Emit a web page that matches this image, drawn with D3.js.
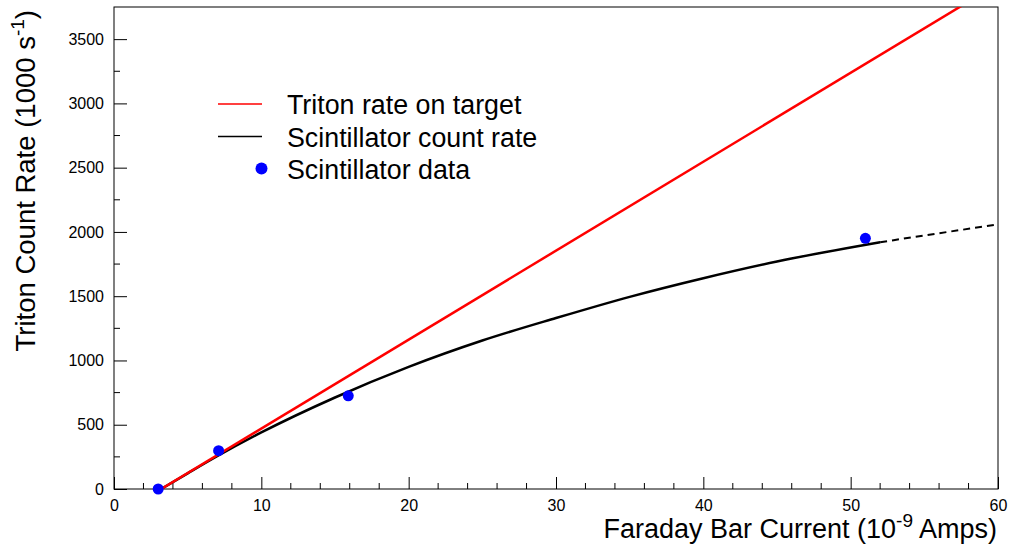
<!DOCTYPE html>
<html>
<head>
<meta charset="utf-8">
<script src="https://cdn.jsdelivr.net/npm/d3@7"></script>
<style>
  html, body { margin: 0; padding: 0; background: #fff; }
  svg { display: block; font-family: "Liberation Sans", Arial, Helvetica, sans-serif; }
</style>
</head>
<body>
<svg id="chart" width="1010" height="553"></svg>
<script>
// ---- data ----
const xDomain = [0, 60];
const yDomain = [0, 3750];
const xTickValues = [0, 10, 20, 30, 40, 50, 60];
const yTickValues = [0, 500, 1000, 1500, 2000, 2500, 3000, 3500];

// Scintillator data points
const dataX = [3.0, 7.1, 15.9, 51.0];
const dataY = [0, 298, 725, 1950];

// Triton rate on target (straight line)
const tritonX = [3.2, 60];
const tritonY = [0, 3930];

// Scintillator count rate (solid part)
const scintX = [3.2, 5, 7, 10, 15, 20, 25, 30, 35, 40, 45, 52];
const scintY = [0, 122, 255, 440, 712, 950, 1155, 1330, 1495, 1640, 1770, 1920];

// Scintillator count rate (dashed extrapolation)
const extrapX = [52, 56, 60];
const extrapY = [1920, 1990, 2058];

const legendLabels = ["Triton rate on target", "Scintillator count rate", "Scintillator data"];

// ---- layout ----
const svg = d3.select("#chart");
const L = 114, R = 998, T = 7, B = 489;

const x = d3.scaleLinear().domain(xDomain).range([L, R]);
const y = d3.scaleLinear().domain(yDomain).range([B, T]);

svg.append("defs").append("clipPath").attr("id", "clip")
  .append("rect").attr("x", L).attr("y", T).attr("width", R - L).attr("height", B - T);

// frame
svg.append("rect").attr("x", L).attr("y", T).attr("width", R - L).attr("height", B - T)
  .attr("fill", "none").attr("stroke", "#000").attr("stroke-width", 1);

// x axis
const xAxis = d3.axisBottom(x).tickValues(xTickValues).tickSize(-12).tickPadding(11)
  .tickFormat(d3.format("d"));
const gx = svg.append("g").attr("transform", `translate(0,${B})`).call(xAxis);
gx.select(".domain").remove();
gx.selectAll("text").attr("font-size", 16).attr("fill", "#000").attr("font-family", null);
// x minor ticks
const xMinor = d3.range(xDomain[0], xDomain[1] + 0.001, 2).filter(v => v % 10 !== 0);
svg.append("g").selectAll("line").data(xMinor).join("line")
  .attr("x1", d => x(d)).attr("x2", d => x(d)).attr("y1", B).attr("y2", B - 6)
  .attr("stroke", "#000");

// y axis
const yAxis = d3.axisLeft(y).tickValues(yTickValues).tickSize(-13).tickPadding(10)
  .tickFormat(d3.format("d"));
const gy = svg.append("g").attr("transform", `translate(${L},0)`).call(yAxis);
gy.select(".domain").remove();
gy.selectAll("text").attr("font-size", 16).attr("fill", "#000").attr("font-family", null);
const yMinor = d3.range(250, yDomain[1], 500);
svg.append("g").selectAll("line").data(yMinor).join("line")
  .attr("x1", L).attr("x2", L + 6).attr("y1", d => y(d)).attr("y2", d => y(d))
  .attr("stroke", "#000");

// ---- marks ----
const plot = svg.append("g").attr("clip-path", "url(#clip)");
const line = d3.line().x(d => x(d[0])).y(d => y(d[1]));
const smooth = d3.line().x(d => x(d[0])).y(d => y(d[1])).curve(d3.curveMonotoneX);

plot.append("path").datum(scintX.map((v, i) => [v, scintY[i]]))
  .attr("d", smooth).attr("fill", "none").attr("stroke", "#000").attr("stroke-width", 2.5);

plot.append("path").datum(extrapX.map((v, i) => [v, extrapY[i]]))
  .attr("d", smooth).attr("fill", "none").attr("stroke", "#000").attr("stroke-width", 2)
  .attr("stroke-dasharray", "7,5");

plot.append("path").datum(tritonX.map((v, i) => [v, tritonY[i]]))
  .attr("d", line).attr("fill", "none").attr("stroke", "#ff0000").attr("stroke-width", 2.5);

svg.append("g").selectAll("circle").data(dataX.map((v, i) => [v, dataY[i]])).join("circle")
  .attr("cx", d => x(d[0])).attr("cy", d => y(d[1])).attr("r", 5.5).attr("fill", "#0000ff");

// ---- legend ----
const lg = svg.append("g");
const rowY = [104, 136.5, 168.5];
lg.append("line").attr("x1", 218).attr("x2", 262).attr("y1", rowY[0]).attr("y2", rowY[0])
  .attr("stroke", "#ff0000").attr("stroke-width", 1.5);
lg.append("line").attr("x1", 218).attr("x2", 262).attr("y1", rowY[1]).attr("y2", rowY[1])
  .attr("stroke", "#000").attr("stroke-width", 1.5);
lg.append("circle").attr("cx", 261.5).attr("cy", rowY[2]).attr("r", 6).attr("fill", "#0000ff");
lg.selectAll("text").data(legendLabels).join("text")
  .attr("x", 287).attr("y", (d, i) => rowY[i] + 10)
  .attr("font-size", 26.8).attr("fill", "#000").text(d => d);

// ---- axis titles ----
const xt = svg.append("text").attr("x", 997).attr("y", 538).attr("text-anchor", "end")
  .attr("font-size", 27).attr("fill", "#000");
xt.append("tspan").text("Faraday Bar Current (10");
xt.append("tspan").attr("dy", -11).attr("font-size", 19).text("-9");
xt.append("tspan").attr("dy", 11).text(" Amps)");

const yt = svg.append("text").attr("transform", "translate(35,10) rotate(-90)")
  .attr("text-anchor", "end").attr("font-size", 27.5).attr("fill", "#000");
yt.append("tspan").text("Triton Count Rate (1000 s");
yt.append("tspan").attr("dy", -11).attr("font-size", 19).text("-1");
yt.append("tspan").attr("dy", 11).text(")");
</script>
</body>
</html>
